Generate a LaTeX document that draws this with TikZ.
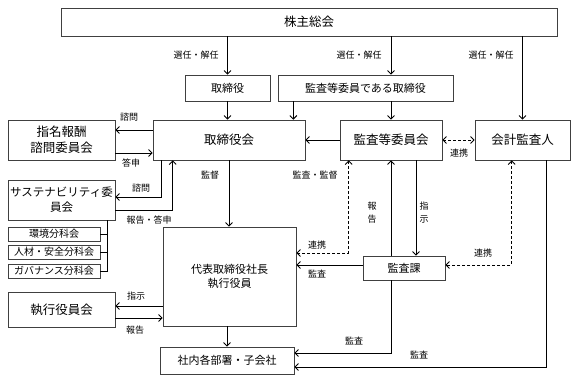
\documentclass[tikz,border=0pt]{standalone}
\usepackage{fontspec}
\setmainfont{Noto Sans CJK JP}
\usetikzlibrary{arrows.meta,calc}

\begin{document}
\begin{tikzpicture}[x=1pt,y=-1pt,>={Straight Barb[length=3.5pt,width=7pt]},
  box/.style={draw=black!75,line width=0.7pt,inner sep=1pt,align=center,font=\fontsize{12.5}{16}\selectfont},
  sbox/.style={box,font=\fontsize{11}{14}\selectfont},
  tbox/.style={box,font=\fontsize{10}{12}\selectfont},
  lbl/.style={inner sep=0pt,align=center,font=\fontsize{9}{13}\selectfont},
  link/.style={->,line width=0.9pt},
  coop/.style={<->,line width=0.9pt,dash pattern=on 3pt off 2pt}]
\useasboundingbox (0,0) rectangle (580,385);

% boxes
\node[box,minimum width=496pt,minimum height=28pt] (agm) at (309,22) {株主総会};
\node[sbox,minimum width=85pt,minimum height=26pt] (dir) at (227.5,88) {取締役};
\node[sbox,minimum width=175pt,minimum height=26pt] (acdir) at (365.5,88) {監査等委員である取締役};
\node[box,minimum width=152pt,minimum height=40pt] (board) at (229,140) {取締役会};
\node[box,minimum width=102pt,minimum height=40pt] (acc) at (391,140) {監査等委員会};
\node[box,minimum width=95pt,minimum height=40pt] (auditor) at (522.5,140) {会計監査人};
\node[box,minimum width=107pt,minimum height=40pt] (nom) at (61.5,140) {指名報酬\\諮問委員会};
\node[box,font=\fontsize{11.5}{15}\selectfont,minimum width=107pt,minimum height=40pt] (sus) at (61.5,200) {サステナビリティ委\\員会};
\node[tbox,minimum width=92pt,minimum height=14pt] (env) at (54,234) {環境分科会};
\node[tbox,minimum width=92pt,minimum height=14pt] (hr) at (54,252) {人材・安全分科会};
\node[tbox,minimum width=92pt,minimum height=14pt] (gov) at (54,271) {ガバナンス分科会};
\node[sbox,minimum width=133pt,minimum height=99pt] (ceo) at (229.5,276.5) {代表取締役社長\\執行役員};
\node[box,minimum width=107pt,minimum height=35pt] (exec) at (61.5,309.5) {執行役員会};
\node[sbox,minimum width=134pt,minimum height=27pt] (dept) at (227,360.5) {社内各部署・子会社};
\node[sbox,minimum width=82pt,minimum height=24pt] (iad) at (404,268) {監査課};

% shareholders and directors
\draw[link] (agm.south -| dir.north) -- (dir.north);
\draw[link] (agm.south -| acc.north) -- (acdir.north -| acc.north);
\draw[link] (agm.south -| auditor.north) -- (auditor.north);
\draw[link] (dir.south) -- (dir.south |- board.north);
\coordinate (bn) at ($(board.north east)+(-12,0)$);
\draw[link] (acdir.south -| bn) -- (bn);
\draw[link] (acdir.south -| acc.north) -- (acc.north);
\draw[link] (acc.west) -- (board.east);
\draw[coop] (acc.east) -- (auditor.west);
\node[lbl] (s1) at (196,55) {選任・解任};
\node[lbl] (s2) at (359,55) {選任・解任};
\node[lbl] (s3) at (491,55) {選任・解任};
\node[lbl] (k1) at (459,153) {連携};
\node[lbl] (k2) at (315,175) {監査・監督};

% committees
\coordinate (q1) at ($(board.west)+(0,-10)$);
\draw[link] (q1) -- (q1 -| nom.east);
\coordinate (a1) at ($(nom.east)+(0,13)$);
\draw[link] (a1) -- (a1 -| board.west);
\coordinate (q2) at ($(sus.east)+(0,-3)$);
\draw[link] ($(board.south west)+(9,0)$) |- (q2);
\coordinate (a2) at ($(sus.east)+(0,10)$);
\draw[link] (a2) -| ($(board.south west)+(20,0)$);
\coordinate (br) at ($(sus.south west)+(100,0)$);
\draw[line width=0.9pt] (br) |- (gov.east) (env.east) -- (env.east -| br) (hr.east) -- (hr.east -| br);
\node[lbl] (n1) at (129,117) {諮問};
\node[lbl] (n2) at (131,163) {答申};
\node[lbl] (n3) at (141,188) {諮問};
\node[lbl] (n4) at (149,220) {報告・答申};

% execution
\draw[link] (board.south) -- (board.south |- ceo.north);
\coordinate (e1) at ($(exec.east)+(0,-3.5)$);
\draw[link] (e1 -| ceo.west) -- (e1);
\coordinate (e2) at ($(exec.east)+(0,8.5)$);
\draw[link] (e2) -- (e2 -| ceo.west);
\draw[link] (ceo.south -| dept.north) -- (dept.north);
\node[lbl] (m1) at (210,175) {監督};
\node[lbl] (m2) at (136,296) {指示};
\node[lbl] (m3) at (135,330) {報告};

% internal audit
\draw[link] (iad.north -| acc.south) -- (acc.south);
\coordinate (ac2) at ($(acc.south)+(25,0)$);
\draw[link] (ac2) -- (ac2 |- iad.north);
\coordinate (c1) at ($(ceo.east)+(0,-23.5)$);
\draw[coop] ($(acc.south west)+(9,0)$) |- (c1);
\coordinate (i1) at ($(iad.west)+(0,-3)$);
\draw[link] (i1) -- (i1 -| ceo.east);
\coordinate (i2) at ($(iad.east)+(0,-3)$);
\draw[coop] ($(auditor.south west)+(37,0)$) |- (i2);
\coordinate (d1) at ($(dept.east)+(0,-7.5)$);
\draw[link] (iad.south -| acc.south) |- (d1);
\coordinate (d2) at ($(dept.east)+(0,6.5)$);
\draw[link] ($(auditor.south west)+(72,0)$) |- (d2);
\node[lbl] (r1) at (372,213) {報\\告};
\node[lbl] (r2) at (424,213) {指\\示};
\node[lbl] (r3) at (317,245) {連携};
\node[lbl] (r4) at (317,274) {監査};
\node[lbl] (r5) at (483,253) {連携};
\node[lbl] (r6) at (354,341) {監査};
\node[lbl] (r7) at (419,355) {監査};
\end{tikzpicture}
\end{document}
